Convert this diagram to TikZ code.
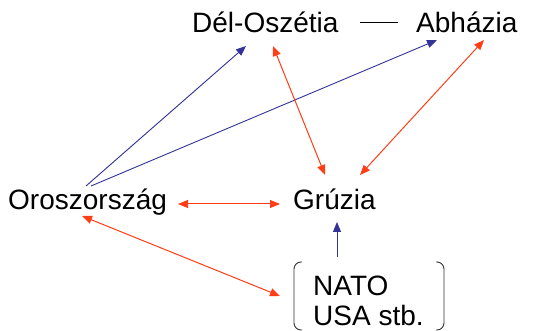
\documentclass[tikz,border=0pt]{standalone}
\usepackage{fontspec}
\setmainfont{Liberation Sans}
\usetikzlibrary{arrows.meta}
\definecolor{rd}{HTML}{FF3D17}
\definecolor{bl}{HTML}{333399}
\begin{document}
\begin{tikzpicture}[x=1pt,y=-1pt,
  lbl/.style={font=\fontsize{28}{30}\selectfont, inner sep=0pt, anchor=base west},
  tip/.tip={Triangle[length=10pt,width=8pt]},
  rarrow/.style={draw=rd, line width=1pt, tip-tip},
  barrow/.style={draw=bl, line width=0.9pt, -tip},
  bracket/.style={draw=black!80, line width=0.9pt, rounded corners=7pt}]
\fill[white] (0,0) rectangle (538,331);
\useasboundingbox (0,0) rectangle (538,331);
\node[lbl] (do) at (192,33) {Dél-Oszétia};
\node[lbl] (ab) at (416,33) {Abházia};
\node[lbl] (ru) at (8,210) {Oroszország};
\node[lbl] (gr) at (293,210) {Grúzia};
\node[lbl, align=left] (na) at (313,325) {NATO\\USA stb.};
% coordinates
\coordinate (dodash) at (360,22);
\coordinate (abdash) at (398,22);
\coordinate (ru1) at (86,186);
\coordinate (ru2) at (91,186);
\coordinate (do1) at (246,46);
\coordinate (ab1) at (437,40);
\coordinate (do2) at (273,46);
\coordinate (gr1) at (325,175);
\coordinate (ab2) at (484,40);
\coordinate (gr2) at (360,175);
\coordinate (ru3) at (178,204);
\coordinate (gr3) at (280,204);
\coordinate (ru4) at (82,216);
\coordinate (na1) at (280,296);
\coordinate (na2) at (337,257);
\coordinate (gr4) at (337,222);
\draw[black, line width=0.9pt] (dodash) -- (abdash);
\draw[barrow] (ru1) -- (do1);
\draw[barrow] (ru2) -- (ab1);
\draw[rarrow] (do2) -- (gr1);
\draw[rarrow] (ab2) -- (gr2);
\draw[rarrow] (ru3) -- (gr3);
\draw[rarrow] (ru4) -- (na1);
\draw[barrow] (na2) -- (gr4);
\draw[bracket] (302,262) -- (294,262) -- (294,330) -- (302,330);
\draw[bracket] (436,262) -- (444,262) -- (444,330) -- (436,330);
\end{tikzpicture}
\end{document}
